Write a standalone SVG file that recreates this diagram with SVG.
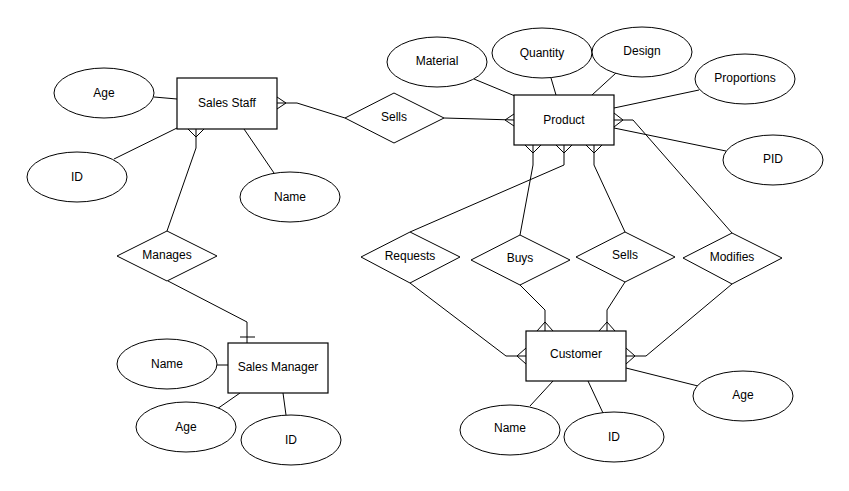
<svg xmlns="http://www.w3.org/2000/svg" width="849" height="491" viewBox="0 0 849 491">
<style>
.ent{fill:#fff;stroke:#000;stroke-width:1.2}
.att{fill:#fff;stroke:#000;stroke-width:1}
.rel{fill:#fff;stroke:#000;stroke-width:1}
.ln{fill:none;stroke:#000;stroke-width:1}
text{font-family:"Liberation Sans",Arial,sans-serif;font-size:12px;fill:#000;text-anchor:middle;dominant-baseline:central}
</style>
<rect width="849" height="491" fill="#fff"/>
<g id="connectors">
<!-- Sales Staff attributes -->
<path class="ln" d="M154,97 L177,99"/>
<path class="ln" d="M114,159 L177,128"/>
<path class="ln" d="M244,129 L274,173"/>
<!-- Sales Staff - Manages -->
<path class="ln" d="M196,129 L196,148 L167,231"/>
<path class="ln" d="M188,129 L196,137 L204,129"/>
<!-- Manages - Sales Manager -->
<path class="ln" d="M168,281 L247,322 L247,343"/>
<path class="ln" d="M240,337 L255,337"/>
<!-- Sales Manager attributes -->
<path class="ln" d="M217,365 L228,365"/>
<path class="ln" d="M217,409 L240,393"/>
<path class="ln" d="M286,415 L283,393"/>
<!-- Sales Staff - Sells - Product -->
<path class="ln" d="M277,103 L297,103 L345,118"/>
<path class="ln" d="M277,97 L286,103 L277,109"/>
<path class="ln" d="M444,118 L514,120"/>
<path class="ln" d="M514,114 L505,120 L514,126"/>
<!-- Product attributes -->
<path class="ln" d="M474,79 L515,96"/>
<path class="ln" d="M551,78 L556,95"/>
<path class="ln" d="M616,73 L592,95"/>
<path class="ln" d="M699,90 L614,108"/>
<path class="ln" d="M614,128 L726,151"/>
<!-- Product - relationships -->
<path class="ln" d="M533,145 L533,165 L520,235"/>
<path class="ln" d="M525,145 L533,153 L541,145"/>
<path class="ln" d="M564,145 L564,165 L410,232"/>
<path class="ln" d="M556,145 L564,153 L572,145"/>
<path class="ln" d="M594,145 L594,165 L625,232"/>
<path class="ln" d="M586,145 L594,153 L602,145"/>
<path class="ln" d="M614,120 L633,120 L732,233"/>
<path class="ln" d="M614,113 L623,120 L614,127"/>
<!-- relationships - Customer -->
<path class="ln" d="M520,285 L545,310 L545,331"/>
<path class="ln" d="M537,331 L545,322 L553,331"/>
<path class="ln" d="M625,282 L607,310 L607,331"/>
<path class="ln" d="M599,331 L607,322 L615,331"/>
<path class="ln" d="M410,283 L506,356 L526,356"/>
<path class="ln" d="M526,348 L517,356 L526,364"/>
<path class="ln" d="M732,284 L646,356 L626,356"/>
<path class="ln" d="M626,348 L635,356 L626,364"/>
<!-- Customer attributes -->
<path class="ln" d="M530,406 L553,381"/>
<path class="ln" d="M603,413 L588,381"/>
<path class="ln" d="M626,368 L698,386"/>
</g>
<g id="sales-staff"><rect class="ent" x="177" y="78" width="100" height="51"/><text x="227" y="103">Sales Staff</text></g>
<g id="ss-age"><ellipse class="att" cx="104" cy="93" rx="50" ry="25"/><text x="104" y="93">Age</text></g>
<g id="ss-id"><ellipse class="att" cx="77" cy="177" rx="50" ry="25"/><text x="77" y="177">ID</text></g>
<g id="ss-name"><ellipse class="att" cx="290" cy="197" rx="50" ry="25"/><text x="290" y="197">Name</text></g>
<g id="manages"><polygon class="rel" points="117,256 167,231 217,256 167,281"/><text x="167" y="255">Manages</text></g>
<g id="sales-manager"><rect class="ent" x="228" y="343" width="100" height="50"/><text x="278" y="367">Sales Manager</text></g>
<g id="sm-name"><ellipse class="att" cx="167" cy="364" rx="50" ry="25"/><text x="167" y="364">Name</text></g>
<g id="sm-age"><ellipse class="att" cx="186" cy="427" rx="50" ry="25"/><text x="186" y="427">Age</text></g>
<g id="sm-id"><ellipse class="att" cx="291" cy="440" rx="50" ry="25"/><text x="291" y="440">ID</text></g>
<g id="sells1"><polygon class="rel" points="345,118 394,93 444,118 394,143"/><text x="394" y="117">Sells</text></g>
<g id="product"><rect class="ent" x="514" y="95" width="100" height="50"/><text x="564" y="120">Product</text></g>
<g id="p-material"><ellipse class="att" cx="437" cy="62" rx="50" ry="25"/><text x="437" y="61">Material</text></g>
<g id="p-quantity"><ellipse class="att" cx="542" cy="53" rx="50" ry="25"/><text x="542" y="53">Quantity</text></g>
<g id="p-design"><ellipse class="att" cx="642" cy="52" rx="50" ry="25"/><text x="642" y="51">Design</text></g>
<g id="p-proportions"><ellipse class="att" cx="745" cy="79" rx="50" ry="25"/><text x="745" y="78">Proportions</text></g>
<g id="p-pid"><ellipse class="att" cx="773" cy="160" rx="50" ry="25"/><text x="773" y="159">PID</text></g>
<g id="requests"><polygon class="rel" points="361,257 410,232 460,257 410,283"/><text x="410" y="256">Requests</text></g>
<g id="buys"><polygon class="rel" points="471,260 520,235 570,260 520,285"/><text x="520" y="258">Buys</text></g>
<g id="sells2"><polygon class="rel" points="576,257 625,232 675,257 625,282"/><text x="625" y="255">Sells</text></g>
<g id="modifies"><polygon class="rel" points="683,258 732,233 782,258 732,284"/><text x="732" y="257">Modifies</text></g>
<g id="customer"><rect class="ent" x="526" y="331" width="100" height="50"/><text x="576" y="354">Customer</text></g>
<g id="c-name"><ellipse class="att" cx="510" cy="430" rx="50" ry="25"/><text x="510" y="428">Name</text></g>
<g id="c-id"><ellipse class="att" cx="614" cy="437" rx="50" ry="25"/><text x="614" y="437">ID</text></g>
<g id="c-age"><ellipse class="att" cx="743" cy="396" rx="50" ry="25"/><text x="743" y="395">Age</text></g>
</svg>
